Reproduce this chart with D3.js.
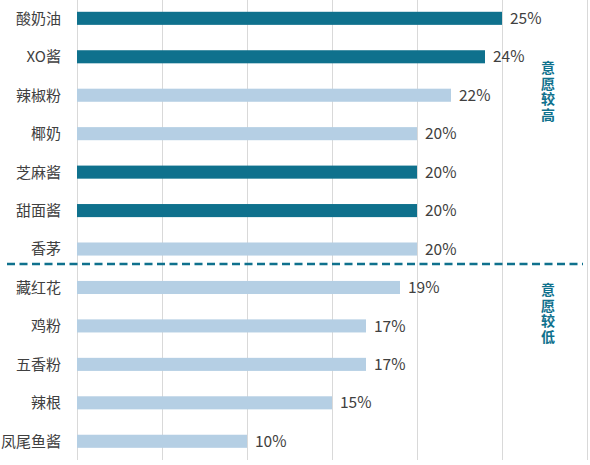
<!DOCTYPE html>
<html>
<head>
<meta charset="utf-8">
<script src="https://cdn.jsdelivr.net/npm/d3@7"></script>
<style>
  html, body { margin: 0; padding: 0; background: #fff; }
  svg text { font-family: "Noto Sans CJK SC", "Noto Sans", sans-serif; }
</style>
</head>
<body>
<div id="chart"></div>
<script>
const categories = ['酸奶油', 'XO酱', '辣椒粉', '椰奶', '芝麻酱', '甜面酱', '香茅',
  '藏红花', '鸡粉', '五香粉', '辣根', '凤尾鱼酱'];
const values = [25, 24, 22, 20, 20, 20, 20, 19, 17, 17, 15, 10];
const highlighted = [true, true, false, false, true, true, false, false, false, false, false, false];
const xTicks = [0, 5, 10, 15, 20, 25, 30];
const groupLabels = ['意愿较高', '意愿较低'];
const splitAfter = 7; // first 7 rows are the "higher" group

const W = 590, H = 465;
const margin = { top: 0, left: 77 };

const svg = d3.select('#chart').append('svg')
  .attr('width', W).attr('height', H);

const g = svg.append('g').attr('transform', `translate(${margin.left},${margin.top})`);

const x = d3.scaleLinear().domain([0, 30]).range([0, 510]);
const y = d3.scaleBand()
  .domain(categories)
  .range([-0.9, 460.5])
  .paddingInner(0.66)
  .paddingOuter(0.33);

// Gridlines
g.append('g')
  .selectAll('line')
  .data(xTicks)
  .join('line')
  .attr('x1', d => x(d) + 0.5).attr('x2', d => x(d) + 0.5)
  .attr('y1', 0).attr('y2', 460)
  .attr('stroke', '#d9d9d9')
  .attr('stroke-width', 1);

// Bars
g.selectAll('rect.bar')
  .data(categories)
  .join('rect')
  .attr('class', 'bar')
  .attr('x', 0)
  .attr('y', d => y(d))
  .attr('height', y.bandwidth())
  .attr('width', (d, i) => x(values[i]))
  .attr('fill', (d, i) => highlighted[i] ? '#0f718d' : '#b5cfe4');

// Value labels
g.selectAll('text.val')
  .data(categories)
  .join('text')
  .attr('class', 'val')
  .attr('x', (d, i) => x(values[i]) + 8)
  .attr('y', d => y(d) + y.bandwidth() / 2)
  .attr('dy', '0.36em')
  .attr('font-size', 15.5)
  .attr('fill', '#404040')
  .text((d, i) => values[i] + '%');

// Category labels
g.selectAll('text.cat')
  .data(categories)
  .join('text')
  .attr('class', 'cat')
  .attr('x', -16)
  .attr('y', d => y(d) + y.bandwidth() / 2)
  .attr('dy', '0.36em')
  .attr('text-anchor', 'end')
  .attr('font-size', 15)
  .attr('fill', '#404040')
  .text(d => d);

// Dashed separator between groups
const splitY = y(categories[splitAfter - 1]) + y.bandwidth() / 2 + 15;
svg.append('line')
  .attr('x1', 7).attr('x2', 583)
  .attr('y1', splitY + margin.top).attr('y2', splitY + margin.top)
  .attr('stroke', '#0f718d')
  .attr('stroke-width', 2.5)
  .attr('stroke-dasharray', '8,4.5');

// Vertical group labels
const groupCenters = [92, 314];
svg.selectAll('text.group')
  .data(groupLabels)
  .join('text')
  .attr('class', 'group')
  .attr('x', 548)
  .attr('y', (d, i) => groupCenters[i])
  .attr('text-anchor', 'middle')
  .style('writing-mode', 'vertical-rl')
  .style('text-orientation', 'upright')
  .style('letter-spacing', '1.5px')
  .attr('font-size', 14)
  .attr('font-weight', 'bold')
  .attr('fill', '#0f718d')
  .text(d => d);
</script>
</body>
</html>
